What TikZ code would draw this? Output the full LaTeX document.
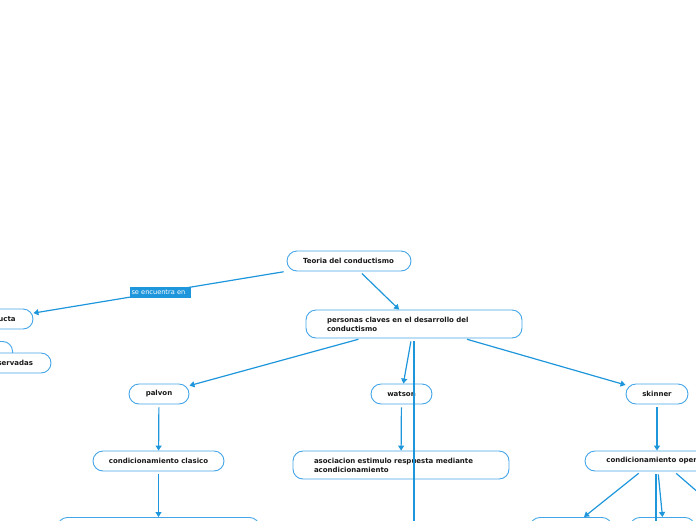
\documentclass[tikz,border=0pt]{standalone}
\usepackage{fontspec}
\setmainfont{DejaVu Sans}
\usetikzlibrary{arrows.meta}
\definecolor{lineblue}{HTML}{1E96DC}
\definecolor{boxblue}{HTML}{44A6E8}
\begin{document}
\begin{tikzpicture}[x=1pt,y=-1pt,
 box/.style={draw=boxblue, line width=0.9pt, rounded corners=10pt, fill=white,
   font=\fontsize{7}{9}\selectfont\bfseries, text=black!90, minimum height=20pt,
   inner ysep=0pt, inner xsep=0pt, align=center},
 lbox/.style={box, align=left},
 conn/.style={draw=lineblue, line width=1.2pt, -{Triangle[width=6pt,length=5pt]}, shorten <=3pt},
 plain/.style={draw=lineblue, line width=1.2pt, shorten <=3pt},
 tag/.style={fill=lineblue, text=white, font=\fontsize{6.6}{8}\selectfont, inner ysep=0pt,
   inner xsep=2pt, minimum height=11pt, text width=57pt, align=left}
]
\useasboundingbox (0,0) rectangle (696,520);
\clip (0,0) rectangle (696,520);

% left partial nodes
\node[box, minimum width=112pt, minimum height=30pt, anchor=north east] (hidden) at (13,341) {};
\node[box, minimum width=71pt] (conducta) at (-2.5,319) {conducta};
\node[box, minimum width=124pt] (observ) at (-11,363) {conductas observadas};

% main nodes
\node[lbox, text width=92pt, inner xsep=16pt] (teoria) at (349,261) {Teoria del conductismo};
\node[lbox, text width=174pt, inner xsep=21pt, minimum height=28pt] (personas) at (414,324)
  {personas claves en el desarrollo del\\conductismo};
\node[box, minimum width=60pt] (palvon) at (159,394) {palvon};
\node[box, minimum width=61pt] (watson) at (401.5,394) {watson};
\node[box, minimum width=62pt] (skinner) at (657,394) {skinner};
\node[box, minimum width=131pt] (clasico) at (158.5,461) {condicionamiento clasico};
\node[lbox, text width=174pt, inner xsep=21pt, minimum height=28pt] (asoc) at (401,465)
  {asociacion estimulo respuesta mediante\\acondicionamiento};
\node[box, minimum width=151pt] (operante) at (660.5,461) {condicionamiento operante};

% bottom partial nodes
\node[box, minimum width=202pt, minimum height=28pt, anchor=north] (b1) at (158.5,517) {};
\node[box, minimum width=82pt, minimum height=28pt, anchor=north] (b2) at (571,517) {};
\node[box, minimum width=65pt, minimum height=28pt, anchor=north] (b3) at (662.5,517) {};

\coordinate (down1) at (414,560);
\coordinate (down2) at (656,560);
\coordinate (right1) at (730,520);

% connectors
\draw[conn] (teoria) -- node[tag] {se encuentra en} (conducta);
\draw[conn] (teoria) -- (personas);
\draw[conn] (personas) -- (palvon);
\draw[conn] (personas) -- (watson);
\draw[conn] (personas) -- (skinner);
\draw[plain] (personas.south) -- (down1);
\draw[conn] (palvon) -- (clasico);
\draw[conn] (clasico) -- (b1);
\draw[conn] (watson) -- (asoc);
\draw[conn] (skinner.south) -- (skinner.south |- operante.north);
\draw[conn] ([xshift=-19.5pt]operante.south) -- ([xshift=13pt]b2.north);
\draw[conn] ([xshift=-2.5pt]operante.south) -- (b3.north);
\draw[plain] ([xshift=-4.5pt]operante.south) -- (down2);
\draw[plain] ([xshift=13.5pt]operante.south) -- (right1);
\end{tikzpicture}
\end{document}
